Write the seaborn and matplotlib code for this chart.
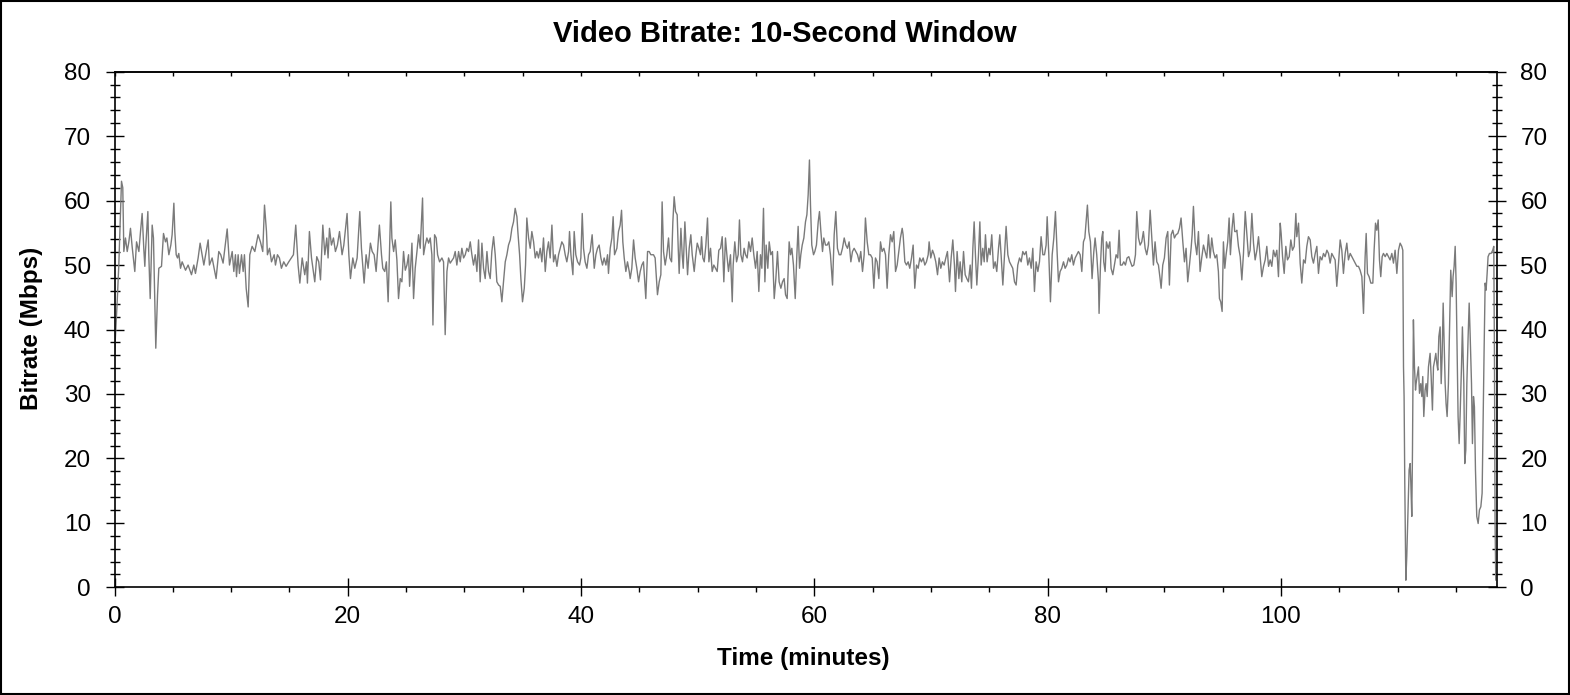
import matplotlib
matplotlib.use("Agg")
import matplotlib.pyplot as plt
from matplotlib.patches import Rectangle
from matplotlib.ticker import MultipleLocator, FixedLocator
import seaborn as sns
import pandas as pd

# ---------------- data ----------------
time_min = [
    0.0, 0.23, 0.37, 0.6, 0.71, 0.8, 0.94, 1.09, 1.23, 1.37, 1.51, 1.74, 1.89, 2.09, 2.23, 2.37, 2.51, 2.6, 2.66, 2.86,
    2.94, 3.06, 3.23, 3.34, 3.43, 3.54, 3.69, 3.8, 4.03, 4.2, 4.37, 4.49, 4.66, 4.83, 4.94, 5.09, 5.17, 5.29, 5.4, 5.51,
    5.66, 5.8, 6.09, 6.31, 6.6, 6.8, 6.94, 7.17, 7.34, 7.51, 7.66, 8.03, 8.14, 8.37, 8.71, 8.94, 9.11, 9.31, 9.66, 9.86,
    10.09, 10.23, 10.37, 10.46, 10.6, 10.71, 10.89, 11.03, 11.14, 11.29, 11.46, 11.6, 11.8, 12.03, 12.31, 12.51, 12.71, 12.86, 13.03, 13.11,
    13.29, 13.46, 13.69, 13.8, 13.97, 14.14, 14.31, 14.51, 14.71, 14.94, 15.34, 15.54, 15.74, 15.89, 16.09, 16.31, 16.46, 16.54, 16.71, 16.89,
    17.17, 17.34, 17.51, 17.66, 17.86, 18.03, 18.2, 18.31, 18.43, 18.6, 18.77, 18.94, 19.11, 19.29, 19.51, 19.66, 19.94, 20.09, 20.23, 20.43,
    20.6, 20.8, 21.03, 21.17, 21.4, 21.57, 21.74, 21.94, 22.09, 22.26, 22.43, 22.71, 22.89, 23.0, 23.17, 23.31, 23.46, 23.69,
    23.78, 23.93, 24.07, 24.21, 24.35, 24.5, 24.64, 24.78, 24.93, 25.07, 25.21, 25.3, 25.5, 25.64, 25.78, 25.93, 26.07, 26.21, 26.41, 26.5,
    26.64, 26.78, 26.93, 27.07, 27.21, 27.3, 27.44, 27.58, 27.7, 27.87, 28.07, 28.21, 28.35, 28.5, 28.64, 28.78, 29.07, 29.21, 29.35, 29.5,
    29.64, 29.78, 29.93, 30.07, 30.21, 30.35, 30.5, 30.64, 30.78, 30.93, 31.07, 31.21, 31.35, 31.5, 31.64, 31.78, 31.93, 32.07, 32.21, 32.35,
    32.5, 32.64, 32.78, 32.93, 33.07, 33.21, 33.35, 33.5, 33.64, 33.78, 33.93, 34.07, 34.21, 34.35, 34.5, 34.58, 34.73, 34.84, 34.98, 35.13,
    35.24, 35.35, 35.5, 35.64, 35.78, 35.93, 36.07, 36.21, 36.35, 36.5, 36.64, 36.78, 36.93, 37.07, 37.21, 37.35, 37.5, 37.64, 37.78, 37.93,
    38.07, 38.21, 38.35, 38.5, 38.64, 38.78, 38.93, 39.01, 39.13, 39.3, 39.41, 39.55, 39.7, 39.87, 39.98, 40.1, 40.21, 40.35, 40.5, 40.64,
    40.78, 40.95, 41.13, 41.27, 41.41, 41.55, 41.7, 41.84, 41.98, 42.13, 42.27, 42.35, 42.5, 42.64, 42.75, 42.87, 43.07, 43.21, 43.35, 43.47,
    43.58, 43.7, 43.84, 43.98, 44.13, 44.21, 44.35, 44.5, 44.64, 44.78, 44.93, 45.07, 45.21, 45.35, 45.55, 45.7, 45.84, 45.98, 46.21, 46.35,
    46.55, 46.7, 46.84, 46.95, 47.07, 47.21, 47.35, 47.5,
    47.61, 47.76, 47.87, 47.98, 48.1, 48.24, 48.33, 48.41, 48.56, 48.67, 48.76, 48.9, 49.04, 49.13, 49.27, 49.41, 49.53, 49.7, 49.81, 49.96,
    50.1, 50.24, 50.33, 50.44, 50.56, 50.7, 50.84, 50.96, 51.1, 51.24, 51.38, 51.53, 51.67, 51.81, 51.96, 52.1, 52.24, 52.38, 52.5, 52.64,
    52.81, 52.96, 53.04, 53.18, 53.33, 53.47, 53.58, 53.7, 53.84, 53.98, 54.1, 54.24, 54.38, 54.53, 54.67, 54.81, 54.96, 55.1, 55.24, 55.38,
    55.5, 55.64, 55.76, 55.87, 56.01, 56.13, 56.27, 56.41, 56.56, 56.7, 56.84, 56.98, 57.13, 57.27, 57.41, 57.53, 57.67, 57.84, 57.96, 58.07,
    58.21, 58.36, 58.5, 58.61, 58.73, 58.84, 58.96, 59.1, 59.24, 59.36, 59.47, 59.58, 59.67, 59.78, 59.93, 60.04, 60.18, 60.33, 60.44, 60.56,
    60.7, 60.81, 60.96, 61.1, 61.24, 61.38, 61.56, 61.7, 61.84, 61.98, 62.13, 62.27, 62.41, 62.56, 62.7, 62.84, 62.98, 63.13, 63.27, 63.41,
    63.56, 63.7, 63.84, 63.98, 64.13, 64.27, 64.38, 64.53, 64.67, 64.81, 64.96, 65.1, 65.24, 65.38, 65.53, 65.67, 65.81, 65.96, 66.1, 66.24,
    66.38, 66.53, 66.67, 66.81, 66.96, 67.1, 67.24, 67.38, 67.53, 67.61, 67.76, 67.9, 68.04, 68.18, 68.33, 68.47, 68.61, 68.76, 68.9, 69.04,
    69.18, 69.33, 69.47, 69.61, 69.76, 69.84, 69.98, 70.13, 70.27, 70.41, 70.56, 70.7, 70.84, 70.98, 71.13, 71.27, 71.41,
    71.59, 71.73, 71.87, 72.01, 72.1, 72.24, 72.39, 72.5, 72.64, 72.79, 72.93, 73.07, 73.21, 73.36, 73.47, 73.59, 73.7, 73.81, 73.93, 74.07,
    74.19, 74.3, 74.44, 74.56, 74.67, 74.81, 74.96, 75.07, 75.21, 75.36, 75.5, 75.64, 75.79, 75.9, 76.01, 76.16, 76.3, 76.44, 76.59, 76.73,
    76.87, 77.01, 77.16, 77.3, 77.44, 77.59, 77.73, 77.87, 78.01, 78.16, 78.3, 78.44, 78.59, 78.73, 78.87, 79.01, 79.16, 79.3, 79.44, 79.59,
    79.73, 79.87, 79.96, 80.1, 80.24, 80.39, 80.53, 80.67, 80.81, 80.93, 81.07, 81.21, 81.36, 81.5, 81.64, 81.79, 81.93, 82.07, 82.21, 82.36,
    82.5, 82.64, 82.79, 82.93, 83.07, 83.19, 83.3, 83.41, 83.53, 83.67, 83.81, 83.96, 84.07, 84.21, 84.36, 84.41, 84.53, 84.64, 84.73, 84.81,
    84.93, 85.04, 85.19, 85.33, 85.44, 85.59, 85.73, 85.87, 86.01, 86.13, 86.24, 86.39, 86.53, 86.67, 86.81, 86.96, 87.1, 87.24, 87.39, 87.53,
    87.64, 87.79, 87.93, 88.07, 88.21, 88.36, 88.5, 88.64, 88.79, 88.93, 89.07, 89.21, 89.36, 89.5, 89.64, 89.73, 89.87, 90.01, 90.16, 90.3,
    90.44, 90.59, 90.73, 90.87, 91.01, 91.16, 91.3, 91.44, 91.59, 91.73, 91.87, 92.01, 92.16, 92.3, 92.39, 92.5, 92.64, 92.79, 92.93, 93.07,
    93.21, 93.36, 93.5, 93.64, 93.79, 93.93, 94.07, 94.21, 94.36, 94.5, 94.64, 94.73, 94.84, 94.96, 95.07, 95.19, 95.3, 95.44, 95.56, 95.67,
    95.81, 95.93, 96.04, 96.16,
    96.22, 96.36, 96.51, 96.65, 96.79, 96.94, 97.08, 97.22, 97.36, 97.51, 97.65, 97.79, 97.94, 98.08, 98.22, 98.36, 98.51, 98.65, 98.79, 98.94,
    99.08, 99.22, 99.36, 99.51, 99.65, 99.79, 99.94, 100.02, 100.14, 100.28, 100.42, 100.56, 100.71, 100.85, 100.99, 101.14, 101.28, 101.36, 101.51, 101.65,
    101.79, 101.94, 102.08, 102.22, 102.36, 102.51, 102.65, 102.79, 102.94, 103.08, 103.22, 103.36, 103.51, 103.65, 103.79, 103.94, 104.08, 104.22, 104.36, 104.51,
    104.65, 104.79, 104.94, 105.08, 105.22, 105.36, 105.51, 105.65, 105.79, 105.94, 106.08, 106.22, 106.36, 106.51, 106.65, 106.79, 106.94, 107.08, 107.22, 107.31,
    107.42, 107.56, 107.71, 107.88, 107.99, 108.11, 108.22, 108.34, 108.45, 108.56, 108.68, 108.79, 108.94, 109.08, 109.22, 109.36, 109.51, 109.65, 109.79, 109.94,
    110.08, 110.22, 110.36, 110.45, 110.51, 110.56, 110.62, 110.71, 110.79, 110.88, 110.99, 111.08, 111.14, 111.22, 111.28, 111.36, 111.45, 111.54, 111.59, 111.71,
    111.79, 111.88, 111.99, 112.08, 112.16, 112.25, 112.36, 112.45, 112.54, 112.65, 112.79, 112.88, 112.99, 113.08, 113.19, 113.28, 113.36, 113.45, 113.54, 113.65,
    113.74, 113.82, 113.91, 113.99, 114.08, 114.16, 114.25, 114.36, 114.45, 114.56, 114.68, 114.76, 114.85, 114.94, 115.02, 115.11, 115.19, 115.28, 115.36, 115.48,
    115.56, 115.68, 115.76, 115.85, 115.94, 116.05, 116.14, 116.22, 116.34, 116.42, 116.51, 116.59, 116.68, 116.79, 116.91, 117.02, 117.14, 117.25, 117.34, 117.42,
    117.51, 117.59, 117.68, 117.76, 117.88, 118.02, 118.16, 118.25, 118.31, 118.36, 118.42,
]

bitrate_mbps = [
    36.0, 44.3, 50.0, 63.0, 62.0, 52.1, 54.2, 52.1, 53.6, 55.7, 52.9, 49.0, 53.6, 52.1, 55.2, 58.0, 52.6, 49.8, 52.3, 58.3,
    51.6, 44.8, 56.2, 54.2, 46.4, 37.1, 45.4, 49.5, 49.8, 54.9, 53.6, 54.2, 51.6, 53.1, 54.7, 59.6, 55.2, 51.6, 51.1, 51.8,
    49.5, 50.5, 49.2, 50.0, 48.5, 50.0, 48.7, 51.1, 53.4, 51.6, 50.0, 53.9, 50.0, 51.1, 47.9, 52.1, 51.6, 50.3, 55.6, 50.0,
    52.1, 49.0, 51.6, 48.2, 51.6, 48.7, 51.6, 49.0, 51.6, 46.4, 43.5, 51.6, 52.9, 52.1, 54.7, 53.6, 52.1, 59.3, 55.2, 51.6,
    52.6, 50.5, 51.6, 50.0, 51.6, 51.1, 49.5, 50.5, 49.8, 50.5, 51.6, 56.2, 50.0, 47.2, 51.1, 48.5, 50.5, 47.2, 55.2, 51.1,
    47.4, 51.3, 50.5, 47.7, 56.2, 51.6, 54.2, 51.1, 55.7, 53.1, 54.2, 52.1, 53.1, 55.2, 51.6, 53.1, 58.0, 51.6, 47.9, 51.1,
    49.5, 51.1, 58.3, 52.6, 47.2, 51.6, 49.5, 53.4, 52.1, 51.6, 49.0, 56.2, 51.6, 49.5, 49.0, 50.5, 44.3, 59.8,
    54.2, 52.1, 53.9, 50.8, 44.8, 47.9, 47.4, 52.1, 49.2, 50.0, 51.6, 46.7, 53.4, 44.8, 49.5, 52.1, 54.7, 52.6, 60.4, 51.6,
    53.1, 54.2, 53.4, 54.2, 51.6, 40.7, 54.7, 54.2, 51.6, 50.5, 51.1, 50.5, 39.2, 49.0, 51.1, 50.3, 51.1, 52.1, 50.0, 52.1,
    50.5, 52.6, 51.1, 51.6, 52.6, 52.1, 53.6, 51.6, 50.0, 51.6, 49.0, 53.9, 47.4, 53.4, 49.5, 47.9, 52.1, 49.0, 47.9, 52.1,
    54.4, 51.6, 47.4, 46.9, 46.7, 44.3, 47.4, 50.5, 51.6, 53.1, 53.9, 55.7, 56.7, 58.8, 57.5, 55.2, 51.6, 47.9, 44.3, 46.4,
    50.0, 57.3, 54.2, 52.6, 55.2, 53.6, 51.1, 52.1, 51.1, 52.6, 50.5, 54.2, 49.0, 52.1, 53.6, 51.1, 56.2, 50.5, 51.6, 49.8,
    51.6, 52.6, 53.6, 53.1, 51.6, 50.5, 52.1, 55.2, 51.6, 48.5, 55.2, 51.6, 50.5, 50.0, 51.1, 58.0, 52.6, 50.5, 49.5, 51.6,
    52.1, 54.7, 49.5, 51.6, 52.6, 53.1, 51.1, 50.0, 51.1, 50.0, 51.6, 48.7, 52.6, 54.2, 57.5, 51.6, 52.6, 55.2, 56.2, 58.5,
    53.6, 51.1, 49.0, 50.5, 49.0, 47.9, 49.5, 53.9, 51.1, 49.5, 47.4, 49.0, 50.0, 50.5, 44.8, 52.1, 52.1, 51.6, 51.6, 51.1,
    45.4, 47.4, 48.5, 59.8, 52.1, 50.0, 51.6, 54.2,
    51.1, 50.5, 56.7, 60.6, 58.3, 57.8, 52.6, 48.7, 55.7, 51.6, 49.5, 56.7, 51.6, 48.5, 52.6, 54.7, 51.6, 49.0, 51.1, 53.4,
    52.6, 51.6, 54.4, 51.1, 50.5, 53.1, 57.3, 50.5, 52.6, 49.0, 50.0, 49.5, 49.0, 52.3, 52.6, 54.4, 47.4, 54.2, 51.6, 49.0,
    51.6, 44.3, 50.0, 53.6, 50.5, 51.6, 57.0, 51.6, 50.5, 52.6, 51.6, 51.1, 53.6, 52.1, 54.2, 51.6, 49.5, 52.1, 45.9, 51.6,
    49.5, 58.8, 47.4, 53.1, 49.5, 53.6, 51.6, 52.1, 44.8, 47.9, 52.1, 47.4, 46.4, 47.4, 47.9, 45.4, 44.8, 53.6, 51.6, 52.6,
    50.0, 44.8, 51.6, 56.0, 49.5, 51.6, 53.1, 54.2, 56.7, 57.8, 60.9, 66.3, 59.3, 53.1, 51.6, 52.1, 53.1, 56.7, 58.3, 55.2,
    52.1, 54.2, 53.1, 53.1, 53.6, 51.6, 46.9, 54.7, 58.3, 52.6, 51.6, 51.6, 52.6, 54.2, 53.1, 52.6, 53.6, 50.5, 52.1, 52.6,
    52.1, 51.6, 50.5, 52.1, 49.0, 51.6, 57.3, 53.6, 51.6, 51.6, 51.1, 46.4, 51.1, 50.5, 47.9, 53.6, 52.1, 52.6, 51.6, 46.4,
    51.6, 54.7, 53.6, 55.2, 49.0, 50.0, 52.1, 54.2, 55.7, 54.7, 50.5, 50.0, 50.5, 49.5, 51.1, 53.1, 46.4, 50.0, 49.5, 51.1,
    50.5, 51.1, 50.0, 50.5, 51.6, 53.6, 51.1, 52.3, 51.6, 50.5, 48.5, 51.1, 49.5, 50.5, 50.0, 51.1, 52.1,
    47.4, 51.1, 53.9, 50.0, 45.9, 52.1, 47.9, 50.5, 47.4, 52.1, 48.5, 47.9, 47.4, 50.0, 46.4, 52.6, 56.7, 51.6, 46.9, 51.6,
    56.7, 50.0, 52.6, 50.5, 54.7, 50.5, 52.6, 51.6, 54.7, 49.5, 50.5, 49.0, 52.6, 54.7, 51.6, 46.9, 51.6, 56.0, 51.6, 50.5,
    50.0, 49.5, 47.4, 46.9, 50.0, 51.1, 50.5, 52.1, 51.6, 52.1, 50.0, 51.1, 49.5, 52.6, 45.9, 50.5, 49.0, 50.5, 54.4, 51.6,
    51.6, 53.1, 57.5, 51.6, 44.3, 51.6, 54.2, 58.3, 52.1, 47.4, 49.0, 49.5, 50.5, 49.5, 50.0, 51.1, 50.5, 51.6, 50.0, 51.1,
    51.6, 52.1, 51.6, 49.0, 53.6, 54.2, 56.7, 59.3, 55.2, 53.6, 47.9, 52.1, 54.2, 51.6, 47.4, 42.5, 50.0, 54.2, 55.2, 50.5,
    49.0, 53.6, 52.6, 53.6, 49.5, 48.5, 50.0, 51.6, 51.1, 55.4, 50.0, 50.0, 50.5, 50.0, 51.1, 51.3, 50.5, 49.8, 50.0, 51.6,
    58.3, 54.2, 53.1, 53.6, 55.2, 52.6, 51.6, 53.1, 58.5, 54.2, 50.0, 53.6, 50.5, 50.0, 47.9, 46.4, 50.0, 51.1, 54.2, 55.2,
    46.9, 54.7, 55.4, 54.2, 54.7, 54.9, 55.7, 57.3, 53.6, 50.5, 52.6, 47.4, 50.0, 52.6, 54.7, 59.1, 53.6, 51.6, 55.2, 49.0,
    51.1, 53.1, 52.1, 51.1, 54.7, 51.1, 54.2, 52.1, 51.1, 51.6, 49.0, 44.8, 44.3, 42.8, 53.6, 49.5, 51.6, 53.6, 57.3, 51.6,
    55.7, 58.0, 55.2, 55.2,
    55.4, 52.9, 51.3, 47.7, 51.8, 58.3, 54.9, 51.3, 52.3, 58.0, 53.4, 50.8, 52.3, 54.4, 51.3, 48.2, 49.8, 50.8, 52.9, 49.8,
    50.8, 49.8, 52.3, 51.3, 52.3, 48.2, 56.5, 54.9, 51.3, 48.7, 52.9, 50.8, 51.3, 53.9, 52.3, 52.9, 58.0, 54.4, 56.5, 50.3,
    47.2, 50.8, 50.3, 52.9, 54.4, 53.9, 51.3, 50.3, 51.8, 52.9, 48.7, 51.3, 50.8, 51.8, 51.3, 52.3, 51.8, 50.3, 51.8, 51.3,
    50.8, 46.7, 50.3, 53.9, 52.3, 48.7, 51.8, 53.4, 50.8, 51.8, 51.3, 50.8, 50.3, 49.8, 49.8, 49.2, 48.2, 42.5, 51.3, 54.9,
    48.7, 48.2, 47.2, 47.2, 52.3, 56.5, 55.4, 57.0, 50.8, 48.2, 51.3, 51.8, 51.3, 51.8, 51.3, 50.8, 51.8, 50.3, 52.3, 48.7,
    52.3, 53.4, 52.9, 52.3, 34.2, 29.6, 16.1, 1.1, 4.8, 11.0, 18.2, 19.2, 16.1, 11.0, 21.3, 41.5, 34.2, 30.6, 31.6, 33.2,
    34.2, 30.1, 31.6, 29.6, 32.7, 26.5, 30.6, 31.6, 29.6, 34.2, 36.3, 32.7, 27.5, 34.2, 35.3, 36.3, 34.8, 33.7, 38.9, 40.4,
    31.6, 35.8, 44.1, 37.9, 31.6, 28.5, 26.5, 31.6, 39.9, 49.2, 45.1, 48.2, 49.8, 52.9, 47.2, 36.8, 26.5, 22.3, 26.5, 34.2,
    40.4, 31.6, 19.2, 21.3, 31.6, 38.9, 44.1, 39.4, 31.6, 22.3, 29.6, 28.0, 18.2, 11.0, 9.9, 12.0, 12.5, 14.6, 26.5, 36.8,
    47.2, 46.1, 48.7, 51.3, 51.8, 51.8, 52.3, 52.9, 35.0, 10.0, 1.1,
]

x_major_ticks = [0, 20, 40, 60, 80, 100]
y_major_ticks = [0, 10, 20, 30, 40, 50, 60, 70, 80]
chart_title = "Video Bitrate: 10-Second Window"
x_label = "Time (minutes)"
y_label = "Bitrate (Mbps)"

# ---------------- styling ----------------
sns.set_theme(style="white")
plt.rcParams["font.family"] = ["Liberation Sans", "DejaVu Sans"]

W, H = 1570, 695
fig = plt.figure(figsize=(W / 100, H / 100), dpi=100)
fig.patch.set_facecolor("white")

left_px, right_px, top_px, bottom_px = 114.5, 1496.7, 71.7, 587.3
ax = fig.add_axes([left_px / W, 1 - bottom_px / H, (right_px - left_px) / W, (bottom_px - top_px) / H])
ax.set_facecolor("white")

df = pd.DataFrame({"time": time_min, "bitrate": bitrate_mbps})
sns.lineplot(data=df, x="time", y="bitrate", ax=ax, color="#7a7a7a",
             linewidth=1.0, estimator=None, sort=False)

ax.set_xlim(0, 118.5)
ax.set_ylim(0, 80)
ax.set_xlabel("")
ax.set_ylabel("")

for s in ax.spines.values():
    s.set_visible(True)
    s.set_color("black")
    s.set_linewidth(1.2)

tick_fs = 17.5
ax.xaxis.set_major_locator(FixedLocator(x_major_ticks))
ax.xaxis.set_minor_locator(MultipleLocator(5))
ax.yaxis.set_major_locator(FixedLocator(y_major_ticks))
ax.yaxis.set_minor_locator(MultipleLocator(2))

ax.tick_params(axis="x", which="major", direction="inout", length=13, width=1.0,
               color="black", labelsize=tick_fs, pad=7, bottom=True, top=False)
ax.tick_params(axis="x", which="minor", direction="out", length=3.5, width=1.0,
               color="black", bottom=True, top=False)
ax.tick_params(axis="y", which="major", direction="inout", length=13, width=1.0,
               color="black", labelsize=tick_fs, pad=10.5, left=True, right=True,
               labelleft=True, labelright=True)
ax.tick_params(axis="y", which="minor", direction="inout", length=6.5, width=1.0,
               color="black", left=True, right=True)
for lab in ax.get_xticklabels() + ax.get_yticklabels():
    lab.set_color("black")

# top axis: small inward ticks only
top = ax.secondary_xaxis("top")
top.xaxis.set_major_locator(FixedLocator(x_major_ticks))
top.xaxis.set_minor_locator(MultipleLocator(5))
top.tick_params(which="both", direction="in", length=3, width=1.0, color="black",
                labeltop=False)
top.spines["top"].set_linewidth(1.2)

# texts
fig.text(785 / W, 1 - 34 / H, chart_title, ha="center", va="center",
         fontsize=21, fontweight="bold", color="black")
fig.text(803 / W, 1 - 659 / H, x_label, ha="center", va="center",
         fontsize=17.5, fontweight="bold", color="black")
fig.text(32 / W, 1 - 328 / H, y_label, ha="center", va="center", rotation=90,
         fontsize=17.5, fontweight="bold", color="black")

# outer frame
fig.patches.append(Rectangle((0.0005, 0.001), 0.999, 0.998, transform=fig.transFigure,
                             fill=False, edgecolor="black", linewidth=1.5))

fig.savefig("out.png", dpi=100, facecolor="white")
